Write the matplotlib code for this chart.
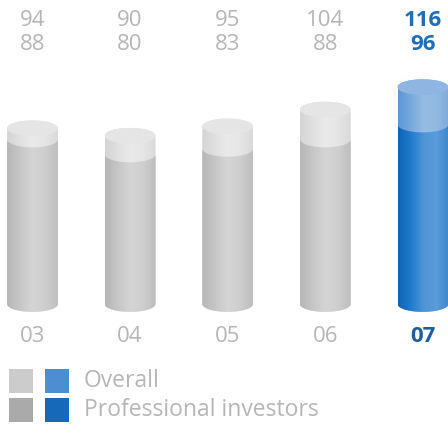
import numpy as np
import matplotlib.pyplot as plt
from matplotlib.path import Path
from matplotlib.patches import PathPatch, Ellipse, Rectangle
from matplotlib.colors import LinearSegmentedColormap

# Investor counts per year
years = ['03', '04', '05', '06', '07']
overall = [94, 90, 95, 104, 116]
professional = [88, 80, 83, 88, 96]

GRAY_TXT = '#b6b6b6'
BLUE_TXT = '#1f6fb8'

# horizontal shading for the cylinder bodies
gray_dark = LinearSegmentedColormap.from_list('gd', ['#b6b6b6', '#c6c6c6', '#d5d5d5', '#cecece', '#bebebe'])
gray_light = LinearSegmentedColormap.from_list('gl', ['#d4d4d4', '#e0e0e0', '#eaeaea', '#e5e5e5', '#d9d9d9'])
blue_dark = LinearSegmentedColormap.from_list('bd', ['#0f63b4', '#1f7bcc', '#4f95d6', '#5a9cda', '#3c86cc'])
blue_light = LinearSegmentedColormap.from_list('bl', ['#5d97d2', '#78a9dc', '#96bce4', '#92b9e2', '#7eaadb'])

fig = plt.figure(figsize=(4.48, 4.25), dpi=100)
ax = fig.add_axes([0, 0, 1, 1])
XLIM = (-0.333, 4.257)
YLIM = (-64.7, 162.6)

W = 0.52      # cylinder width (category units)
RY = 4.2      # half height of the end ellipses (value units)
grad = np.linspace(0, 1, 256).reshape(1, -1)


def cylinder_path(x, y0, y1, front_top=False):
    # bottom: front half of the base ellipse, left to right
    t = np.linspace(np.pi, 2 * np.pi, 40)
    bx = x + W / 2 * np.cos(t)
    by = y0 + RY * np.sin(t)
    # top: back half of the cap (full cylinder) or front half (fill level)
    t2 = np.linspace(2 * np.pi, np.pi, 40) if front_top else np.linspace(0, np.pi, 40)
    tx = x + W / 2 * np.cos(t2)
    ty = y1 + RY * np.sin(t2)
    verts = np.concatenate([np.c_[bx, by], np.c_[tx, ty], [[bx[0], by[0]]]])
    codes = [Path.MOVETO] + [Path.LINETO] * (len(verts) - 2) + [Path.CLOSEPOLY]
    return Path(verts, codes)


def shaded(path, cmap, x, y0, y1):
    patch = PathPatch(path, facecolor='none', edgecolor='none')
    ax.add_patch(patch)
    im = ax.imshow(grad, cmap=cmap, aspect='auto', interpolation='bilinear',
                   extent=[x - W / 2, x + W / 2, y0 - RY, y1 + RY], zorder=2)
    im.set_clip_path(patch)


for i, (o, p) in enumerate(zip(overall, professional)):
    last = i == len(years) - 1
    cd, cl = (blue_dark, blue_light) if last else (gray_dark, gray_light)
    top_col = '#8fb6e2' if last else '#e5e5e5'
    # full height in the light tone, professional part drawn over it
    shaded(cylinder_path(i, 0, o), cl, i, 0, o)
    shaded(cylinder_path(i, 0, p, front_top=True), cd, i, 0, p)
    ax.add_patch(Ellipse((i, o), W, 2 * RY, facecolor=top_col, edgecolor='none', zorder=3))

    col = BLUE_TXT if last else GRAY_TXT
    wt = 'bold' if last else 'normal'
    cx = (32.5 + 97.6 * i) / 448
    fig.text(cx, 1 - 21 / 425, str(o), color=col, fontsize=16,
             fontweight=wt, ha='center', va='center', family='Open Sans')
    fig.text(cx, 1 - 44 / 425, str(p), color=col, fontsize=16,
             fontweight=wt, ha='center', va='center', family='Open Sans')
    fig.text(cx, 1 - 337 / 425, years[i], color='#1c5e9e' if last else GRAY_TXT,
             fontsize=16, fontweight=wt, ha='center', va='center', family='Open Sans')

ax.set_xlim(*XLIM)
ax.set_ylim(*YLIM)
ax.axis('off')

# legend swatches
swatches = [(9, 369, '#cccccc'), (45, 369, '#4c8ed0'),
            (9, 398, '#aaaaaa'), (45, 398, '#1668b8')]
for sx, sy, c in swatches:
    fig.patches.append(Rectangle((sx / 448, 1 - (sy + 24) / 425), 24 / 448, 24 / 425,
                                 transform=fig.transFigure, facecolor=c, edgecolor='none'))
fig.text(84 / 448, 1 - 381 / 425, 'Overall', color=GRAY_TXT, fontsize=16.5,
         ha='left', va='center', family='Open Sans')
fig.text(84 / 448, 1 - 410 / 425, 'Professional investors', color=GRAY_TXT, fontsize=16.5,
         ha='left', va='center', family='Open Sans')

fig.savefig('out.png', dpi=100, facecolor='white')
